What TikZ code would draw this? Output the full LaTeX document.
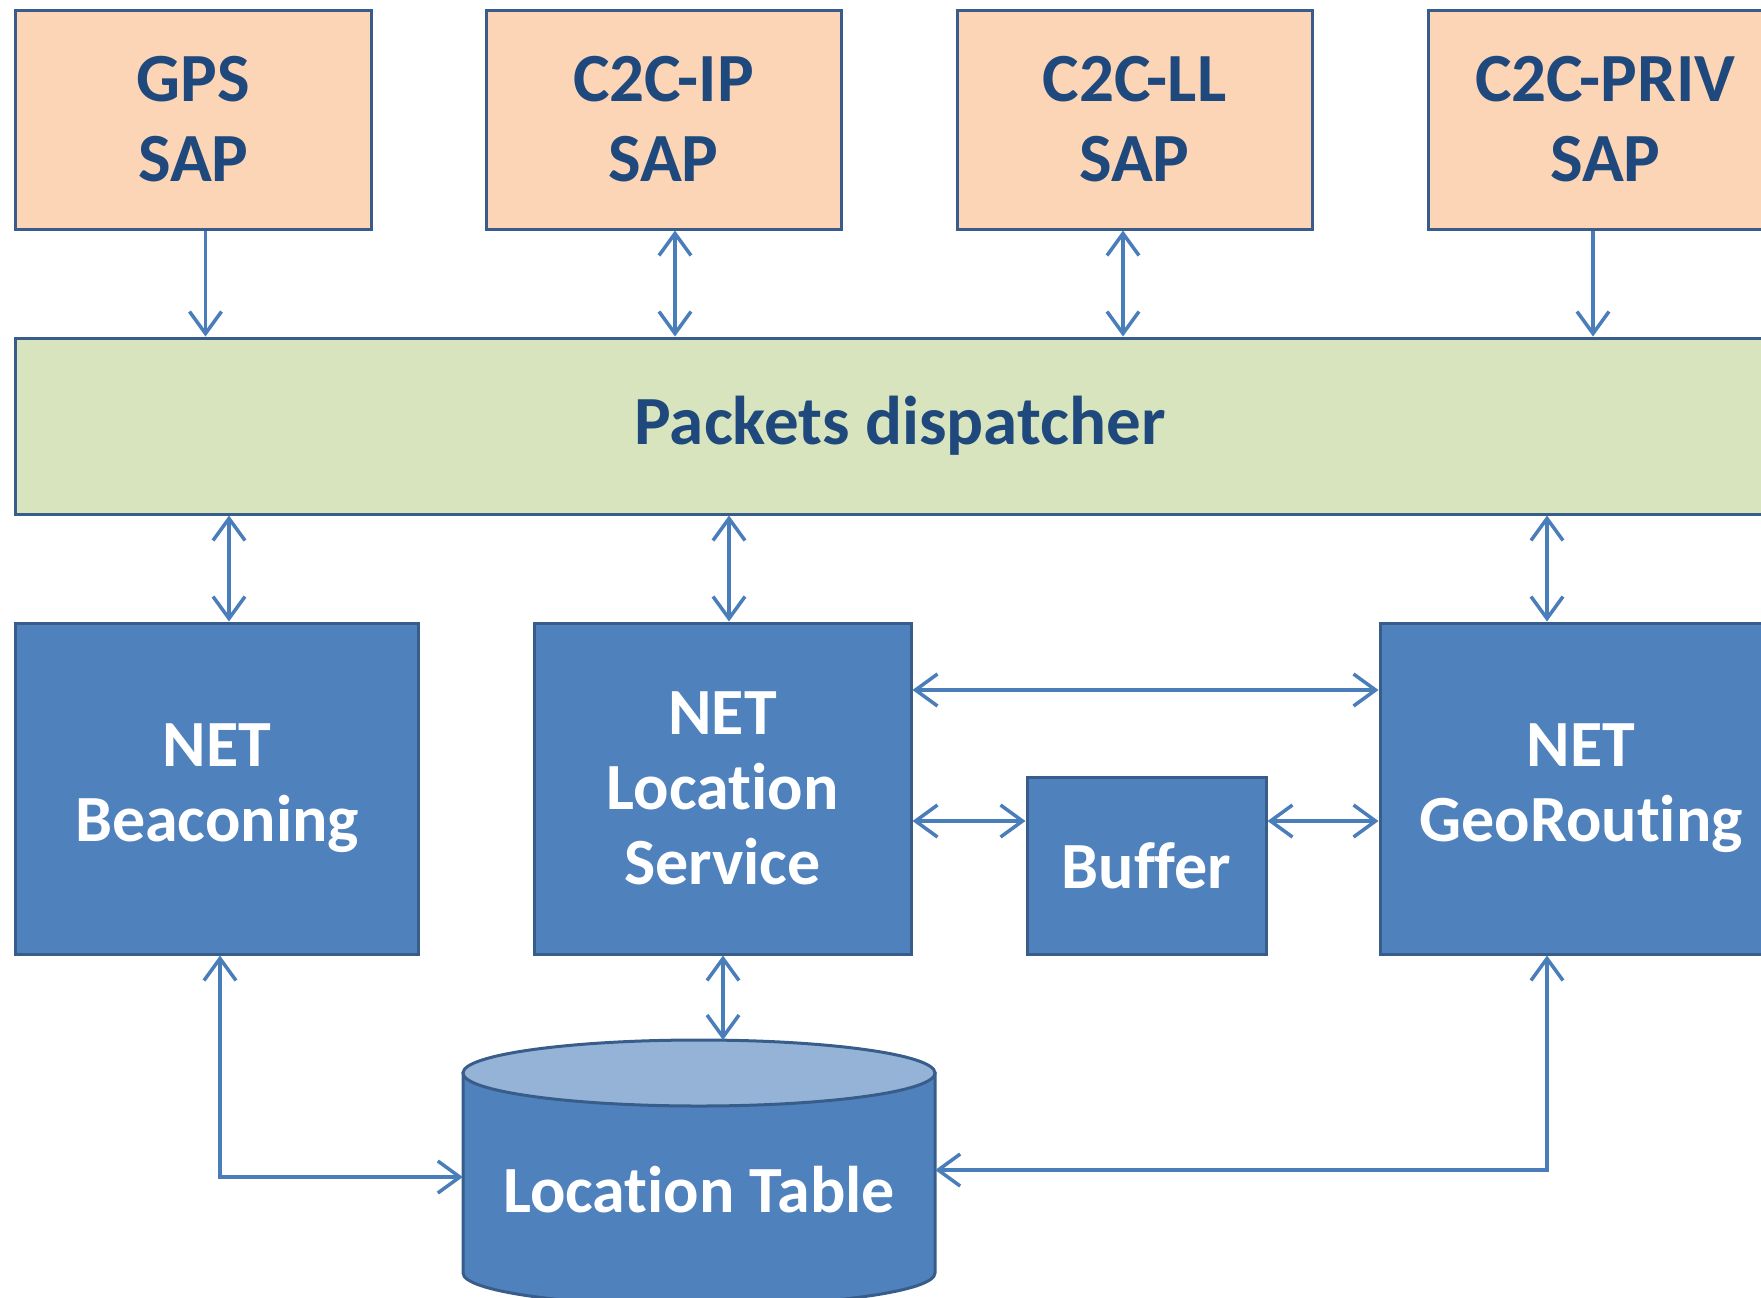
\documentclass[tikz,border=0pt]{standalone}
\usepackage{fontspec}
\setmainfont{Carlito}
\usetikzlibrary{arrows.meta}

\definecolor{sapfill}{HTML}{FBD5B5}
\definecolor{dispfill}{HTML}{D7E4BD}
\definecolor{netfill}{HTML}{4F81BD}
\definecolor{tblfill}{HTML}{95B3D7}
\definecolor{edgeblue}{HTML}{385D8A}
\definecolor{textblue}{HTML}{1F497D}
\definecolor{arrowblue}{HTML}{4A7EBB}

% break the ti / ff ligatures of Carlito
\newcommand{\nolig}{\kern0pt{}}

\tikzset{
  sapbox/.style={draw=edgeblue, fill=sapfill, line width=3bp, text=textblue,
    align=center, minimum width=355bp, minimum height=219bp,
    font=\fontsize{69bp}{80bp}\selectfont\bfseries},
  dispbox/.style={draw=edgeblue, fill=dispfill, line width=3bp, text=textblue,
    minimum width=1768bp, minimum height=176bp,
    font=\fontsize{69bp}{80bp}\selectfont\bfseries},
  netbox/.style={draw=edgeblue, fill=netfill, line width=3bp, text=white,
    align=center, minimum height=331bp,
    font=\fontsize{66bp}{75bp}\selectfont\bfseries},
  barb/.tip={Straight Barb[length=22bp,width=32bp]},
  link/.style={draw=arrowblue, line width=3.5bp, -barb},
  dlink/.style={draw=arrowblue, line width=3.5bp, barb-barb},
}

\begin{document}
\begin{tikzpicture}[x=1bp,y=-1bp]
\useasboundingbox (0,0) rectangle (1761,1297);
\clip (0,0) rectangle (1761,1297);

% service access points
\node[sapbox] (gps)  at (193.5,119.5)  {GPS\\SAP};
\node[sapbox] (ip)   at (663.5,119.5)  {C2C-IP\\SAP};
\node[sapbox] (ll)   at (1134.5,119.5) {C2C-LL\\SAP};
\node[sapbox] (priv) at (1605.5,119.5) {C2C-PRIV\\SAP};

\node[dispbox] (disp) at (900,426) {Packets dispatcher};

% NET modules
\node[netbox, minimum width=402bp] (beac) at (217,788.5)   {NET\\Beaconing};
\node[netbox, minimum width=377bp] (loc)  at (722.5,788.5) {NET\\Locat\nolig ion\\Service};
\node[netbox, minimum width=239bp, minimum height=177bp] (buf) at (1146.5,865.5) {Buf\nolig fer};
\node[netbox, minimum width=402bp] (geo)  at (1581,788.5)  {NET\\GeoRout\nolig ing};

% location table (cylinder)
\filldraw[draw=edgeblue, fill=netfill, line width=3bp]
  (463,1073) -- (463,1273) arc[start angle=180, end angle=0, x radius=236, y radius=33]
  -- (935,1073) -- cycle;
\filldraw[draw=edgeblue, fill=tblfill, line width=3bp]
  (699,1073) ellipse [x radius=236, y radius=33];
\coordinate (tbltop) at (723,1040);
\node[text=white, minimum width=472bp, minimum height=167bp, inner sep=0pt,
  font=\fontsize{66bp}{75bp}\selectfont\bfseries] (tbl) at (699,1189.5) {Locat\nolig ion Table};

% SAP <-> dispatcher
\draw[link]  ([xshift=12bp]gps.south) -- ([xshift=12bp]gps.south |- disp.north);
\draw[dlink] ([xshift=11.5bp]ip.south) -- ([xshift=11.5bp]ip.south |- disp.north);
\draw[dlink] ([xshift=-11.5bp]ll.south) -- ([xshift=-11.5bp]ll.south |- disp.north);
\draw[link]  ([xshift=-12.5bp]priv.south) -- ([xshift=-12.5bp]priv.south |- disp.north);

% dispatcher <-> NET modules
\draw[dlink] ([xshift=12bp]disp.south -| beac.north) -- ([xshift=12bp]beac.north);
\draw[dlink] ([xshift=6.5bp]disp.south -| loc.north) -- ([xshift=6.5bp]loc.north);
\draw[dlink] ([xshift=-34bp]disp.south -| geo.north) -- ([xshift=-34bp]geo.north);

% between NET modules
\draw[dlink] ([yshift=98.5bp]loc.east) -- ([yshift=98.5bp]loc.east -| geo.west);
\draw[dlink] ([yshift=-32.5bp]loc.east) -- ([yshift=-32.5bp]loc.east -| buf.west);
\draw[dlink] ([yshift=-32.5bp]loc.east -| buf.east) -- ([yshift=-32.5bp]loc.east -| geo.west);

% NET modules <-> location table
\draw[dlink] (loc.south -| tbltop) -- (tbltop);
\draw[dlink] ([xshift=3bp]beac.south) |- ([yshift=12.5bp]tbl.west);
\draw[dlink] ([xshift=-34bp]geo.south) |- ([yshift=19.5bp]tbl.east);
\end{tikzpicture}
\end{document}
